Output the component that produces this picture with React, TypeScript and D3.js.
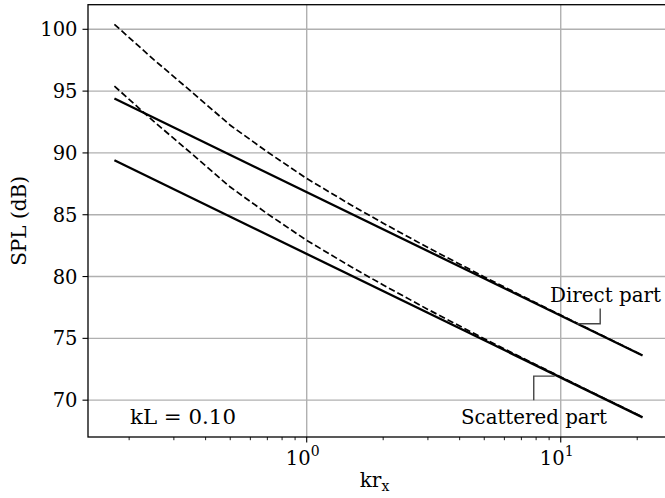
import React from "react";
import * as d3 from "d3";

// ---- data ----
const KR_LINE = [0.175, 21];
const DIRECT = [94.4, 73.61];
const SCATTERED = [89.4, 68.61];

const KR = [0.175, 0.25, 0.35, 0.5, 0.7, 1, 1.5, 2, 3, 5, 7, 10, 15, 21];
const TOTAL_DIRECT = [100.4, 97.55, 94.99, 92.24, 90.08, 87.93, 85.77, 84.32, 82.34, 79.97, 78.46, 76.88, 75.1, 73.63];
const TOTAL_SCATTERED = [95.4, 92.55, 89.99, 87.24, 85.08, 82.93, 80.77, 79.32, 77.34, 74.97, 73.46, 71.88, 70.1, 68.63];

const Y_TICKS = [70, 75, 80, 85, 90, 95, 100];
const X_MAJOR = [1, 10];
const X_MINOR = [0.2, 0.3, 0.4, 0.5, 0.6, 0.7, 0.8, 0.9, 2, 3, 4, 5, 6, 7, 8, 9, 20];

const KL_LABEL = "kL = 0.10";
const DIRECT_LABEL = "Direct part";
const SCATTERED_LABEL = "Scattered part";
// annotation anchors (kr, dB): target on line, elbow
const DIRECT_ANN = { kr: 11.6, elbowKr: 14.3, fromDb: 77.42 };
const SCATTER_ANN = { kr: 9.47, elbowKr: 7.83, fromDb: 70.0 };

const W = 665;
const H = 498;
const FONT = "'DejaVu Serif', serif";

export default function App() {
  const left = 88, right = 669, top = 4.7, bottom = 437;

  const allX = [...KR, ...KR_LINE];
  const allY = [...TOTAL_DIRECT, ...TOTAL_SCATTERED, ...DIRECT, ...SCATTERED];
  const lx0 = Math.log10(d3.min(allX)!), lx1 = Math.log10(d3.max(allX)!);
  const mx = (lx1 - lx0) * 0.05;
  const y0 = d3.min(allY)!, y1 = d3.max(allY)!;
  const my = (y1 - y0) * 0.05;

  const x = d3.scaleLog().domain([Math.pow(10, lx0 - mx), Math.pow(10, lx1 + mx)]).range([left, right]);
  const y = d3.scaleLinear().domain([y0 - my, y1 + my]).range([bottom, top]);

  const line = d3.line<[number, number]>().x(d => x(d[0])).y(d => y(d[1]));
  const pts = (xs: number[], ys: number[]) => xs.map((v, i) => [v, ys[i]] as [number, number]);

  const directAt = (kr: number) => d3.scaleLog().domain(KR_LINE).range(DIRECT)(kr);
  const scatAt = (kr: number) => d3.scaleLog().domain(KR_LINE).range(SCATTERED)(kr);

  const dTx = x(DIRECT_ANN.kr), dTy = y(directAt(DIRECT_ANN.kr));
  const dEx = x(DIRECT_ANN.elbowKr), dFy = y(DIRECT_ANN.fromDb);
  const sTx = x(SCATTER_ANN.kr), sTy = y(scatAt(SCATTER_ANN.kr)) + 1.5;
  const sEx = x(SCATTER_ANN.elbowKr), sFy = y(SCATTER_ANN.fromDb);

  return (
    <svg width={W} height={H} style={{ position: "absolute", left: 0, top: 0, background: "#fff" }} fontFamily={FONT}>
      <defs>
        <clipPath id="plot">
          <rect x={left} y={top} width={right - left} height={bottom - top} />
        </clipPath>
      </defs>
      <rect x={0} y={0} width={W} height={H} fill="#fff" />
      {/* grid */}
      <g stroke="#b0b0b0" strokeWidth={1.4}>
        {Y_TICKS.map(t => (
          <line key={"gy" + t} x1={left} x2={right} y1={y(t)} y2={y(t)} />
        ))}
        {X_MAJOR.map(t => (
          <line key={"gx" + t} x1={x(t)} x2={x(t)} y1={top} y2={bottom} />
        ))}
      </g>
      {/* curves */}
      <g clipPath="url(#plot)" fill="none" stroke="#000">
        <path d={line(pts(KR, TOTAL_DIRECT))!} strokeWidth={1.7} strokeDasharray="6.5,3" />
        <path d={line(pts(KR, TOTAL_SCATTERED))!} strokeWidth={1.7} strokeDasharray="6.5,3" />
        <path d={line(pts(KR_LINE, DIRECT))!} strokeWidth={2.3} />
        <path d={line(pts(KR_LINE, SCATTERED))!} strokeWidth={2.3} />
      </g>
      {/* annotations */}
      <g fill="none" stroke="#444" strokeWidth={1.4}>
        <polyline points={`${dEx},${dFy} ${dEx},${dTy} ${dTx},${dTy}`} />
        <polyline points={`${sEx},${sFy} ${sEx},${sTy} ${sTx},${sTy}`} />
      </g>
      <text x={550} y={302.3} fontSize={20} textLength={111} lengthAdjust="spacingAndGlyphs" fill="#000">{DIRECT_LABEL}</text>
      <text x={461} y={424} fontSize={20} textLength={146} lengthAdjust="spacingAndGlyphs" fill="#000">{SCATTERED_LABEL}</text>
      <text x={130} y={424} fontSize={20} textLength={106} lengthAdjust="spacingAndGlyphs" fill="#000">{KL_LABEL}</text>
      {/* frame */}
      <rect x={left} y={top} width={right - left} height={bottom - top} fill="none" stroke="#000" strokeWidth={1.3} />
      {/* y ticks */}
      {Y_TICKS.map(t => (
        <g key={"yt" + t}>
          <line x1={left - 5.5} x2={left} y1={y(t)} y2={y(t)} stroke="#000" strokeWidth={1.1} />
          <text x={77.5} y={y(t) + 7} fontSize={19.5} textAnchor="end" fill="#000">{t}</text>
        </g>
      ))}
      {/* x ticks */}
      {X_MAJOR.map((t, i) => (
        <g key={"xt" + t}>
          <line x1={x(t)} x2={x(t)} y1={bottom} y2={bottom + 5.5} stroke="#000" strokeWidth={1.1} />
          <text x={x(t) - 4} y={465} fontSize={19.5} textAnchor="middle" fill="#000">
            10
            <tspan dy={-9} fontSize={14}>{i}</tspan>
          </text>
        </g>
      ))}
      {X_MINOR.map(t => (
        <line key={"xm" + t} x1={x(t)} x2={x(t)} y1={bottom} y2={bottom + 3.2} stroke="#000" strokeWidth={0.9} />
      ))}
      {/* axis labels */}
      <text x={(left + right) / 2 - 4} y={487} fontSize={20} textAnchor="middle" fill="#000">
        kr<tspan dy={4} fontSize={14}>x</tspan>
      </text>
      <text transform={`translate(25.5, ${(top + bottom) / 2}) rotate(-90)`} fontSize={20} textAnchor="middle" textLength={90} lengthAdjust="spacingAndGlyphs" fill="#000">
        SPL (dB)
      </text>
    </svg>
  );
}
